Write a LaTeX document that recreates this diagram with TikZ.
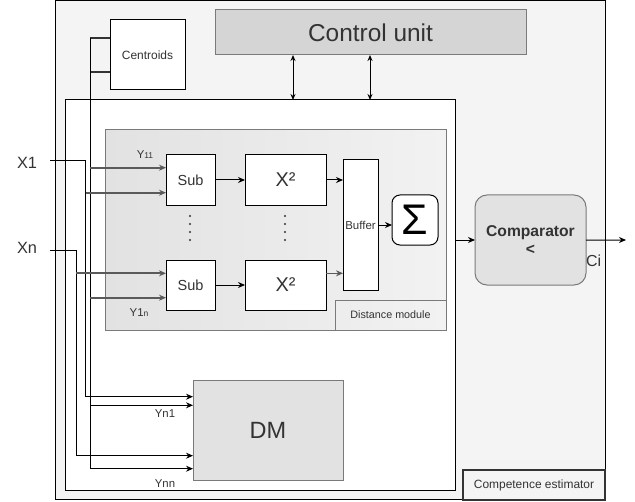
\documentclass[tikz,border=0pt]{standalone}
\usepackage{fontspec}
\setmainfont{Liberation Sans}
\usetikzlibrary{arrows.meta,calc}
\definecolor{txt}{HTML}{333333}
\definecolor{outerfill}{HTML}{F4F4F4}
\definecolor{ctrlfill}{HTML}{D5D5D5}
\definecolor{grayfill}{HTML}{E2E2E2}
\definecolor{bordgray}{HTML}{7A7A7A}
\definecolor{linegray}{HTML}{5A5A5A}
\tikzset{
  fs/.style={font=\fontsize{#1}{#1}\selectfont},
  arr/.style={-{Stealth[length=7bp,width=6bp]}},
  darr/.style={{Stealth[length=6bp,width=5bp]}-{Stealth[length=6bp,width=5bp]}},
  gline/.style={draw=linegray,line width=1.8bp},
  bx/.style={draw=black,line width=1bp,inner sep=0pt,outer sep=0pt,anchor=north west,text=txt,align=center},
  gbx/.style={bx,draw=bordgray,fill=grayfill},
  wire/.style={draw=black,line width=1bp},
  lbl/.style={text=txt,inner sep=0pt},
}
\begin{document}
\begin{tikzpicture}[x=1bp,y=-1bp]
\useasboundingbox (0,0) rectangle (635,502);
% containers
\node[bx,fill=outerfill,minimum width=550bp,minimum height=499bp] (outer) at (55,0.5) {};
\node[bx,draw=bordgray,fill=ctrlfill,minimum width=311bp,minimum height=45bp,fs=24.5] (ctrl) at (215,10) {Control unit};
\node[bx,fill=white,minimum width=75bp,minimum height=70bp,fs=12] (cent) at (110,20) {Centroids};
\node[bx,fill=white,minimum width=390bp,minimum height=390bp] (inner) at (65,100) {};
\node[bx,draw=bordgray,left color={rgb,255:red,226;green,226;blue,226},right color={rgb,255:red,242;green,242;blue,242},minimum width=341bp,minimum height=200bp] (dmod) at (105,130) {};
\node[bx,draw=bordgray,fill=none,minimum width=111bp,minimum height=30bp,fs=10.8] (dmlab) at (335,300) {Distance module};
% processing blocks
\node[bx,fill=white,minimum width=49bp,minimum height=50bp,fs=14.6] (sub1) at (166,155) {Sub};
\node[bx,fill=white,minimum width=49bp,minimum height=50bp,fs=14.6] (sub2) at (166,260) {Sub};
\node[bx,fill=white,minimum width=81bp,minimum height=50bp,fs=20] (sq1) at (245,155) {X²};
\node[bx,fill=white,minimum width=81bp,minimum height=50bp,fs=20] (sq2) at (245,260) {X²};
\node[bx,fill=white,minimum width=35bp,minimum height=130bp,fs=11.5] (buf) at (343,160) {Buffer};
\node[bx,fill=white,rounded corners=8bp,minimum width=46bp,minimum height=50bp,fs=43,text=black] (sig) at (392,195) {Σ};
\node[gbx,rounded corners=12bp,minimum width=111bp,minimum height=90bp,fs=15.7] (comp) at (475,195) {\textbf{Comparator}\\[3bp]\textbf{<}};
\node[gbx,minimum width=150bp,minimum height=100bp,fs=23.6] (dm) at (193,380) {DM};
\node[bx,draw=txt,line width=1.8bp,fill=outerfill,minimum width=142bp,minimum height=30bp,fs=12] (cest) at (463,470) {Competence estimator};
% dots
\foreach \yy in {216,224,232,240}{
  \fill[txt] (190,\yy) circle (1.1bp);
  \fill[txt] (285,\yy) circle (1.1bp);
}
% external labels
\node[lbl,fs=16.4] (lx1) at (27,163) {X1};
\node[lbl,fs=16.4] (lxn) at (27,248) {Xn};
\node[lbl,fs=16,anchor=west] (lci) at (586,261) {Ci};
\node[lbl,fs=11.4] (ly11) at (145,155) {Y\fontsize{8.5}{9}\selectfont 11};
\node[lbl,fs=11.4] (ly1n) at (139,313) {Y1\fontsize{8.5}{9}\selectfont n};
\node[lbl,fs=11.4] (lyn1) at (165,414) {Yn1};
\node[lbl,fs=11.4] (lynn) at (165,484) {Ynn};
% coordinates
\coordinate (x1in) at (50,160.7);
\coordinate (x1k) at (85.7,160.7);
\coordinate (x1b) at (85.7,192.7);
\coordinate (x1d) at (85.7,396.7);
\coordinate (xnin) at (50,250.7);
\coordinate (xnk) at (76,250.7);
\coordinate (xnb) at (76,273.3);
\coordinate (xnd) at (76,455.7);
\coordinate (ct) at (90,38);
\coordinate (cm) at (90,72);
\coordinate (cy11) at (90,167.7);
\coordinate (cy1n) at (90,297.7);
\coordinate (cyn1) at (90,405.3);
\coordinate (cynn) at (90,468.7);
\coordinate (ciout) at (626,240);
\coordinate (cu1) at (293,0);
\coordinate (cu2) at (370,0);
% centroid bus
\draw[draw=txt,line width=2bp] (cent.west |- ct) -- (ct);
\draw[draw=txt,line width=2bp] (cent.west |- cm) -- (cm);
\draw[wire] (ct) -- (cynn);
\draw[arr,gline] (cy11) -- (cy11 -| sub1.west);
\draw[arr,gline] (cy1n) -- (cy1n -| sub2.west);
\draw[arr,wire] (cyn1) -- (cyn1 -| dm.west);
\draw[arr,wire] (cynn) -- (cynn -| dm.west);
% inputs
\draw[wire] (x1in) -- (x1k) -- (x1d);
\draw[arr,wire] (x1d) -- (x1d -| dm.west);
\draw[arr,gline] (x1b) -- (x1b -| sub1.west);
\draw[wire] (xnin) -- (xnk) -- (xnd);
\draw[arr,wire] (xnd) -- (xnd -| dm.west);
\draw[arr,gline] (xnb) -- (xnb -| sub2.west);
% pipeline
\draw[arr,wire] (sub1.east) -- (sq1.west);
\draw[arr,wire] (sub2.east) -- (sq2.west);
\draw[arr,wire] (sq1.east) -- (sq1.east -| buf.west);
\draw[arr,gline,line width=1.5bp] (sq2.east |- xnb) -- (xnb -| buf.west);
\draw[arr,wire] (buf.east) -- (buf.east -| sig.west);
\draw[arr,wire] (inner.east |- comp.west) -- (comp.west);
\draw[arr,wire] (comp.east) -- (ciout);
% control
\draw[darr,wire] (cu1 |- ctrl.south) -- (cu1 |- inner.north);
\draw[darr,wire] (cu2 |- ctrl.south) -- (cu2 |- inner.north);
\end{tikzpicture}
\end{document}
